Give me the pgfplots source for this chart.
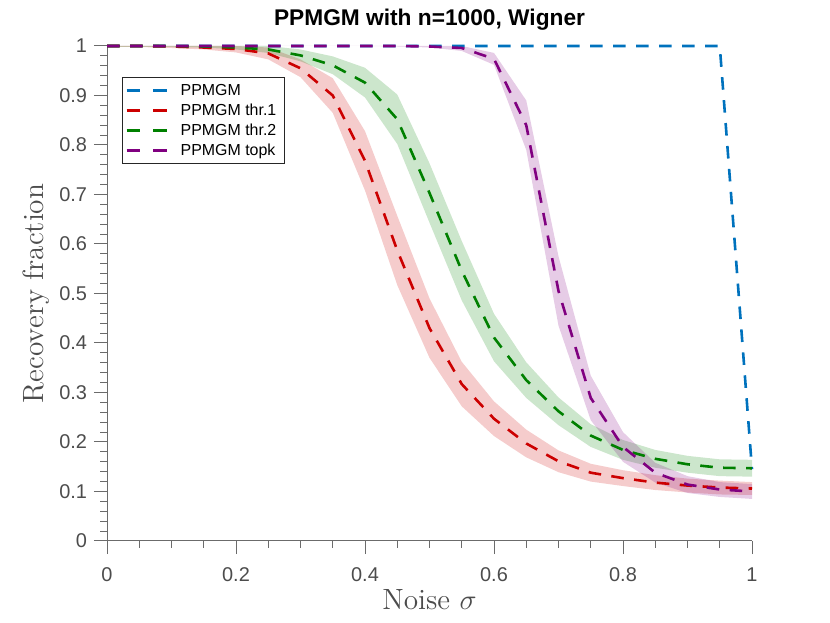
\documentclass[border=0pt]{standalone}
\usepackage{fontspec}
\newfontfamily\helv{Liberation Sans}
\usepackage{pgfplots}
\pgfplotsset{compat=1.18}
\usepackage{pgfplotstable}
\usepgfplotslibrary{fillbetween}
\definecolor{mblue}{rgb}{0,0.447,0.741}
\definecolor{mred}{rgb}{0.8,0,0}
\definecolor{mgreen}{rgb}{0,0.5,0}
\definecolor{mpurple}{rgb}{0.5,0,0.5}
\definecolor{axgray}{rgb}{0.42,0.42,0.42}
\definecolor{txtgray}{rgb}{0.30,0.30,0.30}

\pgfplotstableread{
x    m     lo    hi
0.00 1.000 1.000 1.000
0.05 1.000 1.000 1.000
0.10 1.000 1.000 1.000
0.15 1.000 1.000 1.000
0.20 1.000 1.000 1.000
0.25 1.000 1.000 1.000
0.30 1.000 1.000 1.000
0.35 1.000 1.000 1.000
0.40 1.000 1.000 1.000
0.45 1.000 1.000 1.000
0.50 1.000 1.000 1.000
0.55 1.000 1.000 1.000
0.60 1.000 1.000 1.000
0.65 1.000 1.000 1.000
0.70 1.000 1.000 1.000
0.75 1.000 1.000 1.000
0.80 1.000 1.000 1.000
0.85 1.000 1.000 1.000
0.90 1.000 1.000 1.000
0.95 1.000 1.000 1.000
1.00 0.145 0.145 0.145
}\plain

\pgfplotstableread{
x    m     lo    hi
0.00 1.000 0.998 1.000
0.05 1.000 0.998 1.000
0.10 0.999 0.996 1.000
0.15 0.997 0.993 1.000
0.20 0.994 0.987 1.000
0.25 0.985 0.973 0.997
0.30 0.955 0.937 0.973
0.35 0.900 0.865 0.935
0.40 0.768 0.708 0.828
0.45 0.587 0.517 0.657
0.50 0.430 0.370 0.490
0.55 0.317 0.272 0.362
0.60 0.247 0.212 0.282
0.65 0.197 0.169 0.225
0.70 0.161 0.139 0.183
0.75 0.138 0.120 0.156
0.80 0.127 0.111 0.143
0.85 0.118 0.103 0.133
0.90 0.112 0.098 0.126
0.95 0.108 0.094 0.122
1.00 0.106 0.093 0.119
}\throne

\pgfplotstableread{
x    m     lo    hi
0.00 1.000 0.998 1.000
0.05 1.000 0.998 1.000
0.10 1.000 0.998 1.000
0.15 0.999 0.997 1.000
0.20 0.997 0.993 1.000
0.25 0.993 0.986 1.000
0.30 0.981 0.969 0.993
0.35 0.961 0.943 0.979
0.40 0.926 0.896 0.956
0.45 0.852 0.802 0.902
0.50 0.703 0.643 0.763
0.55 0.546 0.486 0.606
0.60 0.411 0.363 0.459
0.65 0.325 0.289 0.361
0.70 0.262 0.234 0.290
0.75 0.213 0.190 0.236
0.80 0.184 0.164 0.204
0.85 0.166 0.148 0.184
0.90 0.155 0.138 0.172
0.95 0.148 0.131 0.165
1.00 0.147 0.130 0.164
}\thrtwo

\pgfplotstableread{
x    m     lo    hi
0.00 1.000 1.000 1.000
0.05 1.000 1.000 1.000
0.10 1.000 1.000 1.000
0.15 1.000 1.000 1.000
0.20 1.000 1.000 1.000
0.25 1.000 1.000 1.000
0.30 1.000 1.000 1.000
0.35 1.000 1.000 1.000
0.40 1.000 1.000 1.000
0.45 1.000 0.999 1.000
0.50 0.999 0.997 1.000
0.55 0.996 0.990 1.000
0.60 0.974 0.962 0.986
0.65 0.840 0.790 0.890
0.70 0.505 0.435 0.575
0.75 0.289 0.244 0.334
0.80 0.190 0.160 0.220
0.85 0.138 0.118 0.158
0.90 0.114 0.097 0.131
0.95 0.104 0.089 0.119
1.00 0.100 0.085 0.115
}\topk

\begin{document}
\begin{tikzpicture}
\path (0,0) rectangle (415bp,311.5bp);
\begin{axis}[
  at={(53.5bp,41bp)}, anchor=south west,
  scale only axis, width=322.5bp, height=247.5bp,
  xmin=0, xmax=1, ymin=0, ymax=1,
  clip=false,
  axis x line*=bottom, axis y line*=left,
  axis line style={draw=axgray, line width=0.5bp, -},
  every tick/.style={draw=axgray, line width=0.5bp},
  tick align=outside,
  major tick length=6.5bp, minor tick length=3.5bp,
  xtick={0,0.2,0.4,0.6,0.8,1},
  ytick={0,0.1,0.2,0.3,0.4,0.5,0.6,0.7,0.8,0.9,1},
  minor x tick num=3, minor y tick num=4,
  tick label style={font=\helv\fontsize{10}{12}\selectfont, text=txtgray},
  /pgf/number format/assume math mode=true,
  xticklabel style={yshift=-3.4bp},
  title={PPMGM with n=1000, Wigner},
  title style={font=\helv\bfseries\fontsize{11.4}{13}\selectfont, at={(axis description cs:0.5,1.0182)}, anchor=base},
  xlabel={Noise $\sigma$},
  ylabel={Recovery fraction},
  label style={font=\fontsize{14.7}{16}\selectfont, text=txtgray},
  xlabel style={at={(axis description cs:0.5,-0.1374)}, anchor=base},
  ylabel style={at={(axis description cs:-0.0989,0.5)}, anchor=base},
  legend style={at={(axis description cs:0.0233,0.937)}, anchor=north west,
    draw=black!85, line width=0.5bp, fill=white,
    font=\helv\fontsize{8}{9.5}\selectfont,
    inner xsep=1.35bp, inner ysep=2.8bp,
    nodes={inner sep=0pt, text height=6bp, text depth=1.5bp},
    row sep=2.5bp},
  legend cell align=left,
  legend image code/.code={\draw[#1, dash pattern=on 6.7bp off 6.6bp] (0bp,0bp) -- (20bp,0bp); \path (26.4bp,0bp);},
]
% PPMGM
\addplot[mblue, line width=1.3bp, dash pattern=on 6.3bp off 5.2bp] table[x=x,y=m]{\plain};
\addlegendentry{PPMGM}
% thr.1
\addplot[draw=none, name path=rhi, forget plot] table[x=x,y=hi]{\throne};
\addplot[draw=none, name path=rlo, forget plot] table[x=x,y=lo]{\throne};
\addplot[fill=mred, fill opacity=0.2, draw=none, forget plot] fill between[of=rhi and rlo];
\addplot[mred, line width=1.3bp, dash pattern=on 6.3bp off 5.2bp] table[x=x,y=m]{\throne};
\addlegendentry{PPMGM thr.1\hspace*{3bp}}
% thr.2
\addplot[draw=none, name path=ghi, forget plot] table[x=x,y=hi]{\thrtwo};
\addplot[draw=none, name path=glo, forget plot] table[x=x,y=lo]{\thrtwo};
\addplot[fill=mgreen, fill opacity=0.2, draw=none, forget plot] fill between[of=ghi and glo];
\addplot[mgreen, line width=1.3bp, dash pattern=on 6.3bp off 5.2bp] table[x=x,y=m]{\thrtwo};
\addlegendentry{PPMGM thr.2\hspace*{3bp}}
% topk
\addplot[draw=none, name path=phi, forget plot] table[x=x,y=hi]{\topk};
\addplot[draw=none, name path=plo, forget plot] table[x=x,y=lo]{\topk};
\addplot[fill=mpurple, fill opacity=0.2, draw=none, forget plot] fill between[of=phi and plo];
\addplot[mpurple, line width=1.3bp, dash pattern=on 6.3bp off 5.2bp] table[x=x,y=m]{\topk};
\addlegendentry{PPMGM topk}
\end{axis}
\end{tikzpicture}
\end{document}
